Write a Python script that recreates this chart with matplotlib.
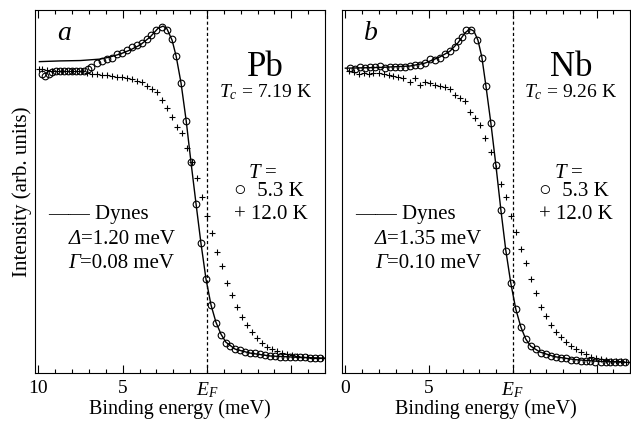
import matplotlib
matplotlib.use("Agg")
from matplotlib import pyplot as plt
from matplotlib.ticker import FixedLocator, MultipleLocator

plt.rcParams["font.family"] = ["Liberation Serif", "DejaVu Serif"]
plt.rcParams["mathtext.fontset"] = "custom"
plt.rcParams["mathtext.rm"] = "Liberation Serif"
plt.rcParams["mathtext.it"] = "Liberation Serif:italic"
plt.rcParams["mathtext.bf"] = "Liberation Serif:bold"

# panel a: Pb
pb_circ_e = [9.78, 9.59, 9.39, 9.17, 8.93, 8.70, 8.46, 8.22, 7.99, 7.75, 7.51, 7.28,
             7.04, 6.86, 6.53, 6.23, 5.93, 5.64, 5.34, 5.05, 4.75, 4.46, 4.16, 3.86,
             3.57, 3.33, 3.02, 2.68, 2.38, 2.09, 1.85, 1.56, 1.22, 0.95, 0.65, 0.37,
             0.06, -0.24, -0.53, -0.81, -1.11, -1.36, -1.66, -1.95, -2.25, -2.54,
             -2.84, -3.14, -3.43, -3.73, -4.02, -4.32, -4.62, -4.91, -5.21, -5.50,
             -5.80, -6.09, -6.39, -6.69]
pb_circ_i = [82.3, 81.9, 82.5, 82.9, 83.2, 83.3, 83.3, 83.3, 83.2, 83.2, 83.1, 83.2,
             83.7, 84.4, 85.3, 86.0, 86.5, 86.9, 87.8, 88.3, 89.1, 89.7, 90.4, 90.9,
             91.9, 93.1, 94.5, 95.4, 94.5, 92.0, 87.4, 79.8, 69.5, 58.2, 46.5, 35.7,
             25.8, 18.7, 13.7, 10.5, 8.2, 7.4, 6.7, 6.3, 5.9, 5.6,
             5.4, 5.1, 5.0, 4.8, 4.7, 4.5, 4.4, 4.4, 4.3, 4.3,
             4.3, 4.1, 4.1, 4.1]
pb_cross_e = [9.97, 9.78, 9.49, 9.19, 8.89, 8.60, 8.30, 8.01, 7.71, 7.41, 7.12, 6.82,
              6.53, 6.23, 5.93, 5.64, 5.34, 5.05, 4.75, 4.46, 4.16, 3.86, 3.57, 3.27,
              2.98, 2.68, 2.38, 2.09, 1.79, 1.50, 1.20, 0.91, 0.61, 0.31, 0.02, -0.28,
              -0.57, -0.87, -1.17, -1.46, -1.76, -2.09, -2.38, -2.68, -2.98, -3.27,
              -3.57, -3.86, -4.16, -4.46, -4.75, -5.05, -5.34, -5.64, -5.93, -6.23,
              -6.53, -6.82]
pb_cross_i = [83.7, 83.7, 83.5, 83.3, 83.3, 83.3, 83.2, 83.2, 83.2, 83.1, 82.8, 82.4,
              82.3, 82.1, 82.1, 81.8, 81.5, 81.5, 81.2, 80.9, 80.6, 80.2, 79.1, 78.2,
              77.3, 75.2, 72.9, 70.6, 67.9, 66.0, 61.9, 58.2, 53.6, 48.4, 43.3, 38.5,
              33.4, 29.5, 24.9, 21.5, 18.1, 15.3, 13.2, 11.4, 9.7, 8.2,
              7.2, 6.6, 6.1, 5.6, 5.2, 4.9, 4.7, 4.5, 4.3, 4.2,
              4.1, 4.0]
pb_fit_e = [9.94, 8.70, 7.51, 6.33, 5.74, 5.15, 4.56, 3.96, 3.37, 2.90, 2.60, 2.37,
            2.07, 1.83, 1.54, 1.24, 0.95, 0.65, 0.36, 0.06, -0.24, -0.53, -0.83,
            -1.12, -1.66, -2.54, -3.73, -5.50, -6.98]
pb_fit_i = [85.8, 86.0, 86.1, 86.5, 87.1, 87.9, 89.0, 90.4, 92.6, 95.0, 95.6, 94.8,
            91.7, 87.3, 79.9, 69.7, 58.1, 46.6, 35.8, 25.9, 18.7, 14.0, 10.7,
            8.5, 6.6, 5.5, 4.7, 4.3, 4.1]

# panel b: Nb
nb_circ_e = [9.70, 9.40, 9.11, 8.81, 8.51, 8.21, 7.92, 7.62, 7.32, 7.02, 6.73, 6.43,
             6.13, 5.83, 5.54, 5.24, 4.94, 4.64, 4.35, 4.05, 3.75, 3.45, 3.26, 3.05,
             2.82, 2.50, 2.16, 1.86, 1.61, 1.33, 1.01, 0.68, 0.42, 0.12, -0.18, -0.48,
             -0.77, -1.07, -1.37, -1.67, -1.96, -2.26, -2.56, -2.86, -3.15, -3.45,
             -3.75, -4.05, -4.35, -4.64, -4.94, -5.24, -5.54, -5.83, -6.13, -6.43,
             -6.73]
nb_circ_i = [84.1, 83.9, 84.2, 84.1, 84.2, 84.4, 84.6, 84.1, 84.2, 84.4, 84.4, 84.4,
             84.6, 84.8, 85.0, 85.5, 86.4, 86.2, 86.9, 87.8, 88.8, 89.9, 91.5, 92.6,
             94.5, 94.5, 91.7, 86.7, 79.2, 69.0, 57.3, 44.9, 33.7, 24.7, 17.5, 12.8,
             9.3, 7.5, 6.5, 5.6, 5.1, 4.7, 4.4, 4.1, 4.0, 3.7,
             3.6, 3.4, 3.3, 3.2, 3.0, 3.0, 2.9, 2.9, 2.9, 2.9,
             2.9]
nb_cross_e = [9.80, 9.51, 9.21, 8.91, 8.61, 8.32, 8.02, 7.72, 7.42, 7.13, 6.83, 6.53,
              6.13, 5.83, 5.54, 5.24, 4.94, 4.64, 4.35, 4.05, 3.75, 3.45, 3.15, 2.86,
              2.56, 2.26, 1.93, 1.67, 1.31, 1.01, 0.73, 0.38, 0.12, -0.22, -0.52,
              -0.77, -1.07, -1.37, -1.67, -2.01, -2.30, -2.60, -2.90, -3.20, -3.49,
              -3.79, -4.09, -4.39, -4.68, -4.98, -5.28, -5.58, -5.88, -6.17, -6.47,
              -6.77]
nb_cross_i = [83.2, 83.0, 82.3, 82.6, 82.3, 82.6, 82.6, 82.3, 82.1, 81.8, 81.5, 81.2,
              80.2, 81.2, 79.3, 80.2, 79.8, 79.3, 79.1, 78.9, 78.2, 76.6, 75.7, 74.9,
              72.0, 70.4, 68.3, 64.7, 61.0, 56.5, 52.1, 48.6, 43.4, 38.8, 34.1,
              30.2, 25.9, 22.0, 18.3, 15.7, 13.2, 11.4, 10.0, 8.6, 7.5,
              6.6, 5.9, 5.2, 4.5, 4.0, 3.8, 3.6, 3.4, 3.3, 3.2,
              3.1]
nb_fit_e = [10.0, 7.92, 6.13, 5.24, 4.35, 3.75, 3.27, 2.86, 2.56, 2.32, 2.08, 1.85,
            1.61, 1.31, 1.01, 0.71, 0.42, 0.12, -0.18, -0.48, -0.77, -1.07, -1.61,
            -2.50, -3.69, -5.18, -6.96]
nb_fit_i = [84.0, 84.2, 84.6, 85.4, 87.1, 88.7, 91.0, 93.7, 94.8, 94.2, 91.7, 87.1,
            79.3, 68.9, 57.3, 44.9, 33.9, 24.8, 17.6, 12.7, 9.4, 7.4, 5.8,
            4.5, 3.7, 3.2, 2.9]

panels = [
    dict(circ=(pb_circ_e, pb_circ_i), cross=(pb_cross_e, pb_cross_i), fit=(pb_fit_e, pb_fit_i),
         letter="a", metal="Pb", tc="7.19", delta="1.20", gamma="0.08", first_label="10"),
    dict(circ=(nb_circ_e, nb_circ_i), cross=(nb_cross_e, nb_cross_i), fit=(nb_fit_e, nb_fit_i),
         letter="b", metal="Nb", tc="9.26", delta="1.35", gamma="0.10", first_label="0"),
]

fig = plt.figure(figsize=(6.31, 4.21), dpi=100)
axes = [fig.add_axes([0.0555, 0.114, 0.4596, 0.862]),
        fig.add_axes([0.542, 0.114, 0.4564, 0.862])]

for ax, p in zip(axes, panels):
    ax.plot(p["fit"][0], p["fit"][1], color="black", lw=1.0, zorder=2)
    ax.plot(p["circ"][0], p["circ"][1], "o", mfc="none", mec="black", ms=4.8, mew=0.8, zorder=3)
    ax.plot(p["cross"][0], p["cross"][1], "+", color="black", ms=5, mew=0.8, zorder=3)
    ax.axvline(0, color="black", lw=0.9, ls=(0, (2.5, 2)), zorder=1)

    ax.set_xlim(10.2, -7.0)
    ax.set_ylim(0, 100)
    ax.xaxis.set_major_locator(FixedLocator([10, 5, 0, -5]))
    ax.xaxis.set_minor_locator(MultipleLocator(1))
    ax.set_xticklabels([p["first_label"], "5", "$E_F$", ""])
    ax.tick_params(axis="x", which="both", direction="in", top=True, bottom=True,
                   labelsize=14, pad=5)
    ax.tick_params(axis="x", which="major", length=6, width=0.8)
    ax.tick_params(axis="x", which="minor", length=3, width=0.8)
    ax.tick_params(axis="y", left=False, labelleft=False)
    ax.set_xlabel("Binding energy (meV)", fontsize=14.5, labelpad=0)

    tr = ax.transAxes
    ax.text(0.075, 0.935, p["letter"], transform=tr, fontsize=20, style="italic", ha="left", va="center")
    ax.text(0.795, 0.842, p["metal"], transform=tr, fontsize=25, ha="center", va="center")
    ax.text(0.795, 0.773, r"$T_c$ = " + p["tc"] + " K", transform=tr, fontsize=14, ha="center", va="center")
    ax.text(0.735, 0.55, r"$T$ =", transform=tr, fontsize=15, ha="left", va="center")
    ax.text(0.685, 0.50, "\u25CB  5.3 K", transform=tr, fontsize=15, ha="left", va="center")
    ax.text(0.685, 0.437, "+ 12.0 K", transform=tr, fontsize=15, ha="left", va="center")
    ax.text(0.045, 0.437, "\u2014\u2014 Dynes", transform=tr, fontsize=15, ha="left", va="center")

    # italic greek symbol followed by the value
    d = ax.text(0.115, 0.367, "\u0394", transform=tr, fontsize=15, style="italic",
                ha="left", va="center")
    ax.annotate("=" + p["delta"] + " meV", xy=(1, 0), xycoords=d, fontsize=15,
                ha="left", va="bottom")
    g = ax.text(0.115, 0.303, "\u0393", transform=tr, fontsize=15, style="italic",
                ha="left", va="center")
    ax.annotate("=" + p["gamma"] + " meV", xy=(1, 0), xycoords=g, fontsize=15,
                ha="left", va="bottom")

axes[0].set_ylabel("Intensity (arb. units)", fontsize=15, labelpad=2)

fig.savefig("out.png", dpi=100)
